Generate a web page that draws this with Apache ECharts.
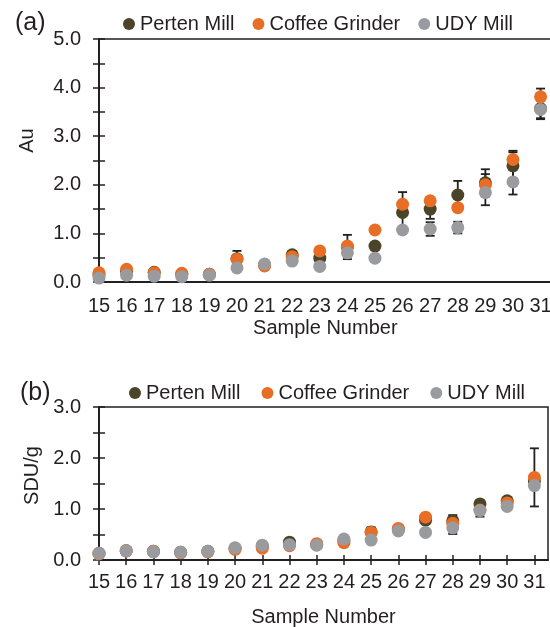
<!DOCTYPE html>
<html>
<head>
    <meta charset="utf-8">
    <script src="https://cdn.jsdelivr.net/npm/echarts@6/dist/echarts.min.js"></script>
</head>
<body style="margin:0">
    <div id="main" style="width: 550px;height:627px;"></div>
    <script type="text/javascript">
        // sample numbers on the x axis
        var samples = [15, 16, 17, 18, 19, 20, 21, 22, 23, 24, 25, 26, 27, 28, 29, 30, 31];
        var xTicks = [15, 16, 17, 18, 19, 20, 21, 22, 23, 24, 25, 26, 27, 28, 29, 30, 31];

        // (a) Au
        var auPerten = [0.15, 0.22, 0.20, 0.16, 0.16, 0.48, 0.35, 0.56, 0.49, 0.72, 0.74, 1.43, 1.50, 1.79, 2.04, 2.39, 3.57];
        var auCoffee = [0.19, 0.26, 0.19, 0.18, 0.16, 0.47, 0.33, 0.52, 0.64, 0.74, 1.07, 1.60, 1.67, 1.53, 2.00, 2.52, 3.81];
        var auUdy    = [0.08, 0.14, 0.12, 0.11, 0.14, 0.29, 0.37, 0.43, 0.32, 0.60, 0.49, 1.07, 1.09, 1.12, 1.84, 2.06, 3.55];
        var auPertenErr = [0, 0, 0, 0, 0, 0.16, 0, 0, 0, 0.25, 0, 0.42, 0.20, 0.29, 0.28, 0.28, 0.22];
        var auCoffeeErr = [0, 0, 0, 0, 0, 0, 0, 0, 0, 0, 0, 0, 0, 0, 0.22, 0.18, 0.17];
        var auUdyErr    = [0, 0, 0, 0, 0, 0, 0, 0, 0, 0, 0, 0, 0.14, 0.12, 0.26, 0.26, 0.18];

        // (b) SDU/g
        var sduPerten = [0.13, 0.18, 0.17, 0.15, 0.17, 0.23, 0.27, 0.35, 0.30, 0.38, 0.55, 0.60, 0.78, 0.77, 1.10, 1.16, 1.55];
        var sduCoffee = [0.12, 0.18, 0.17, 0.14, 0.16, 0.21, 0.23, 0.28, 0.32, 0.34, 0.54, 0.62, 0.84, 0.72, 0.98, 1.12, 1.62];
        var sduUdy    = [0.13, 0.18, 0.16, 0.15, 0.17, 0.24, 0.29, 0.30, 0.29, 0.41, 0.39, 0.57, 0.54, 0.63, 0.97, 1.05, 1.46];
        var sduPertenErr = [0, 0, 0, 0, 0, 0, 0, 0, 0, 0, 0, 0, 0, 0.11, 0.05, 0, 0];
        var sduCoffeeErr = [0, 0, 0, 0, 0, 0, 0, 0, 0, 0, 0.10, 0, 0, 0, 0.13, 0, 0.57];
        var sduUdyErr    = [0, 0, 0, 0, 0, 0, 0, 0, 0, 0, 0, 0, 0, 0.12, 0, 0, 0];

        var names = ['Perten Mill', 'Coffee Grinder', 'UDY Mill'];
        var colors = ['#4a4529', '#e96e25', '#9a9b9f'];
        var ink = '#231f20';
        var font = 'Liberation Sans, Arial, sans-serif';

        function pts(vals) {
            return samples.map(function (s, i) { return [s, vals[i]]; });
        }
        function errPts(vals, errs) {
            var out = [];
            samples.forEach(function (s, i) {
                if (errs[i] > 0) out.push([s, vals[i] - errs[i], vals[i] + errs[i]]);
            });
            return out;
        }
        function renderErr(params, api) {
            var x = api.value(0);
            var top = api.coord([x, api.value(2)]);
            var bot = api.coord([x, api.value(1)]);
            var w = 4.5;
            var st = { stroke: ink, lineWidth: 1.8 };
            return {
                type: 'group',
                children: [
                    { type: 'line', shape: { x1: top[0], y1: top[1], x2: bot[0], y2: bot[1] }, style: st },
                    { type: 'line', shape: { x1: top[0] - w, y1: top[1], x2: top[0] + w, y2: top[1] }, style: st },
                    { type: 'line', shape: { x1: bot[0] - w, y1: bot[1], x2: bot[0] + w, y2: bot[1] }, style: st }
                ]
            };
        }

        function yAx(gi, max, inside) {
            return {
                type: 'value', gridIndex: gi, min: 0, max: max, interval: 0.5, position: 'left',
                axisLine: { show: !inside, lineStyle: { color: ink, width: 2 } },
                axisTick: { show: true, inside: inside, length: 6, lineStyle: { color: ink, width: 1.5 } },
                splitLine: { show: false },
                axisLabel: {
                    show: !inside, margin: 18, color: ink, fontSize: 20, fontFamily: font,
                    formatter: function (v) { return v % 1 === 0 ? v.toFixed(1) : ''; }
                }
            };
        }
        function xAx(gi, max, opts) {
            return {
                type: 'value', gridIndex: gi, min: 15, max: max, interval: 1, position: 'bottom',
                name: opts.name, nameLocation: 'middle', nameGap: opts.nameGap,
                nameTextStyle: { color: ink, fontSize: 20, fontFamily: font },
                axisLine: { show: opts.line, onZero: false, lineStyle: { color: ink, width: 2 } },
                axisTick: { show: opts.tick, inside: opts.inside, length: 5, customValues: xTicks, lineStyle: { color: ink, width: 1.5 } },
                splitLine: { show: false },
                axisLabel: {
                    show: opts.label, margin: opts.margin, color: ink, fontSize: 20, fontFamily: font,
                    customValues: xTicks
                }
            };
        }

        var series = [];
        function addSet(gi, xi, yi, vals, errs) {
            for (var k = 0; k < 3; k++) {
                series.push({
                    type: 'custom', xAxisIndex: xi, yAxisIndex: yi, z: 2,
                    renderItem: renderErr, data: errPts(vals[k], errs[k]), silent: true
                });
            }
            for (var k = 0; k < 3; k++) {
                series.push({
                    name: names[k], type: 'scatter', xAxisIndex: xi, yAxisIndex: yi, z: 3 + k,
                    symbol: 'circle', symbolSize: 13,
                    itemStyle: { color: colors[k], opacity: 1 },
                    data: pts(vals[k])
                });
            }
        }
        addSet(0, 0, 0, [auPerten, auCoffee, auUdy], [auPertenErr, auCoffeeErr, auUdyErr]);
        addSet(1, 1, 2, [sduPerten, sduCoffee, sduUdy], [sduPertenErr, sduCoffeeErr, sduUdyErr]);

        var legendBase = {
            data: names, icon: 'circle', itemWidth: 12, itemHeight: 12,
            textStyle: { color: ink, fontSize: 20, fontFamily: font }
        };

        var myChart = echarts.init(document.getElementById('main'));
        var option = {
            animation: false,
            backgroundColor: '#fff',
            title: [
                { text: '(a)', left: 10, top: 6, textStyle: { color: ink, fontSize: 25, fontWeight: 'normal', fontFamily: font } },
                { text: '(b)', left: 15, top: 376, textStyle: { color: ink, fontSize: 25, fontWeight: 'normal', fontFamily: font } }
            ],
            legend: [
                Object.assign({ left: 118, top: 9, itemGap: 18 }, legendBase),
                Object.assign({ left: 124, top: 378, itemGap: 21 }, legendBase)
            ],
            grid: [
                { left: 99, top: 39, width: 452.6, height: 243, show: true, borderColor: ink, borderWidth: 1.5, outerBoundsMode: 'none' },
                { left: 99, top: 407, width: 449, height: 153, show: true, borderColor: ink, borderWidth: 1.5, outerBoundsMode: 'none' }
            ],
            xAxis: [
                xAx(0, 31.4, { name: 'Sample Number', nameGap: 36, line: true, tick: false, inside: false, label: true, margin: 14 }),
                xAx(1, 31.5, { name: 'Sample Number', nameGap: 47, line: true, tick: true, inside: false, label: true, margin: 12 }),
                xAx(1, 31.5, { name: '', nameGap: 0, line: false, tick: true, inside: true, label: false, margin: 12 })
            ],
            yAxis: [
                Object.assign(yAx(0, 5, false), { name: 'Au', nameLocation: 'middle', nameGap: 62,
                    nameTextStyle: { color: ink, fontSize: 20, fontFamily: font, padding: [0, 0, 0, 40] } }),
                yAx(0, 5, true),
                Object.assign(yAx(1, 3, false), { name: 'SDU/g', nameLocation: 'middle', nameGap: 57,
                    nameTextStyle: { color: ink, fontSize: 20, fontFamily: font, padding: [0, 0, 0, 16] } }),
                yAx(1, 3, true)
            ],
            series: series
        };
        myChart.setOption(option);
    </script>
</body>
</html>
